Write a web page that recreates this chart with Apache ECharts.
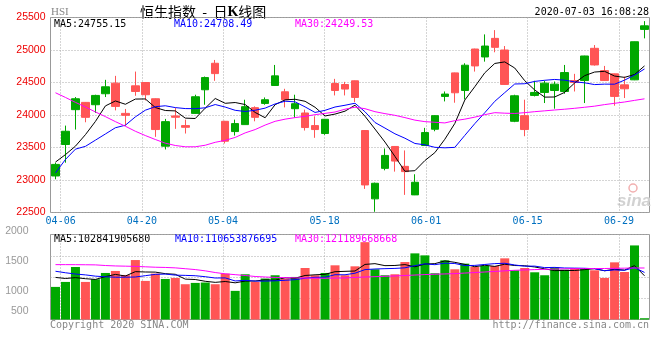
<!DOCTYPE html>
<html><head><meta charset="utf-8">
<script src="https://cdn.jsdelivr.net/npm/echarts@6/dist/echarts.min.js"></script>
<style>html,body{margin:0;padding:0;background:#fff}#c{width:660px;height:360px}</style>
</head><body><div id="c"></div>
<script>
const dates = ['04-03','04-06','04-07','04-08','04-09','04-14','04-15','04-16','04-17','04-20',
'04-21','04-22','04-23','04-24','04-27','04-28','04-29','05-04','05-05','05-06',
'05-07','05-08','05-11','05-12','05-13','05-14','05-15','05-18','05-19','05-20',
'05-21','05-22','05-25','05-26','05-27','05-28','05-29','06-01','06-02','06-03',
'06-04','06-05','06-08','06-09','06-10','06-11','06-12','06-15','06-16','06-17',
'06-18','06-19','06-22','06-23','06-24','06-26','06-29','06-30','07-02','07-03'];
const tickLabels = ['04-06','04-20','05-04','05-18','06-01','06-15','06-29'];

const open = [23062,23546,24082,24194,24158,24327,24490,24025,24449,24500,
24250,23520,23985,23837,24025,24388,24796,23903,23745,23852,
24113,24178,24454,24357,24097,24031,23837,23715,24484,24469,
24526,23761,22710,23179,23516,23210,22771,23531,23781,24286,
24648,24377,25015,24893,25179,25000,23903,23990,24301,24347,
24377,24362,24530,24530,25026,24683,24633,24464,24541,25317];
const close = [23240,23750,24250,23964,24301,24434,24132,23995,24362,24312,
23776,23898,23965,23811,24281,24576,24637,23597,23868,24128,
23964,24235,24602,24235,24174,23807,23776,23934,24377,24399,
24270,22924,22950,23378,23291,23129,22965,23730,23990,24322,
24342,24766,24755,25061,25041,24470,24296,23776,24347,24490,
24475,24653,24500,24908,24770,24530,24286,24403,25127,25372];
const low = [23011,23266,23776,23888,24032,24276,24071,23837,24296,24224,
23664,23470,23787,23715,24020,24158,24526,23562,23684,23850,
23903,24158,24450,24117,23960,23761,23649,23695,24301,24301,
24200,22863,22511,23149,23129,22771,22768,23528,23750,24209,
24189,24240,24668,24821,24965,24465,23890,23674,24286,24184,
24097,24327,24362,24184,24760,24525,24143,24261,24536,25179];
const high = [23266,23837,24276,24200,24312,24541,24602,24093,24668,24505,
24255,23940,24108,23929,24312,24592,24847,23910,23929,24235,
24133,24270,24770,24403,24312,24082,23980,23940,24556,24510,
24530,23765,22960,23485,23520,23455,23088,23802,23995,24362,
24652,24796,25020,25240,25306,25061,24312,24235,24526,24526,
24515,24770,24633,24912,25076,24755,24638,24592,25130,25444];

const ma5 = [23276,23391,23521,23698,23901,24140,24216,24165,24245,24247,
24115,24069,24063,23952,23946,24106,24254,24180,24192,24161,
24039,23958,24159,24233,24242,24211,24119,23985,24014,24059,
24151,23981,23784,23584,23363,23134,23143,23299,23421,23627,
23870,24230,24435,24649,24793,24817,24723,24528,24385,24275,
24277,24348,24493,24605,24661,24672,24599,24579,24623,24755];
const ma10 = [23110,23316,23475,23518,23613,23708,23804,23843,23971,24074,
24128,24142,24114,24099,24097,24111,24161,24122,24072,24054,
24073,24106,24170,24212,24202,24125,24039,24072,24123,24150,
24181,24050,23885,23799,23711,23643,23562,23541,23503,23495,
23502,23686,23867,24035,24210,24344,24477,24481,24517,24534,
24547,24536,24510,24495,24468,24475,24474,24536,24614,24708];
const ma30 = [24342,24270,24194,24123,24047,23975,23898,23827,23750,23684,
23623,23567,23531,23511,23511,23535,23580,23610,23655,23725,
23776,23845,23903,23936,23960,23980,24005,24025,24046,24089,
24120,24097,24051,24021,23995,23960,23921,23898,23888,23878,
23913,23936,23967,24005,24036,24028,24024,24036,24051,24064,
24077,24089,24103,24119,24136,24160,24180,24200,24225,24249];

const volume = [767,884,1235,884,947,1095,1142,1048,1399,908,
1080,954,978,830,861,870,830,1080,674,1064,
884,964,1041,964,1001,1212,1041,1095,1275,1041,
1251,1820,1181,1041,1064,1352,1556,1509,1088,1392,
1181,1314,1235,1259,1259,1439,1158,1212,1111,1041,
1228,1174,1212,1212,1158,978,1345,1118,1743,30];
const volMa5 = [990,965,985,960,943,1009,1061,1023,1126,1118,
1115,1078,1064,950,941,899,874,894,863,904,
906,933,925,983,971,1036,1052,1063,1125,1133,
1141,1296,1314,1267,1271,1292,1239,1304,1314,1379,
1345,1297,1242,1276,1250,1301,1270,1265,1236,1192,
1150,1153,1153,1173,1197,1147,1181,1162,1268,1028];
const volMa10 = [1135,1100,1070,1050,1020,1005,995,995,1000,1031,
1062,1069,1044,1038,1030,1007,976,979,907,922,
903,904,910,923,937,971,993,994,1054,1052,
1089,1174,1188,1196,1202,1216,1268,1309,1290,1325,
1318,1268,1273,1295,1315,1323,1283,1254,1256,1221,
1226,1212,1209,1205,1195,1148,1167,1158,1221,1107];
const volMa30 = [1291,1291,1290,1288,1285,1270,1260,1255,1250,1240,
1230,1225,1215,1195,1175,1145,1105,1075,1055,1035,
1012,1000,990,985,980,975,972,970,975,978,
990,1000,1008,1016,1025,1035,1046,1057,1065,1072,
1080,1093,1105,1118,1131,1145,1158,1166,1174,1181,
1186,1192,1197,1198,1199,1200,1204,1208,1212,1212];
const priceTicks = [22500, 25500, 500];
const volTicks = [0, 2000, 500];

const UP = '#00a800', DOWN = '#ff5555';
const MONO = '"DejaVu Sans Mono", monospace';
const GRID_LINE = {show: true, lineStyle: {color: '#aaa', type: [1, 2], width: 1}};
const showTick = (i, v) => tickLabels.indexOf(v) >= 0;

const candles = dates.map((d, i) => [open[i], close[i], low[i], high[i]]);
const lineS = (name, data, color, xi, yi) => ({
  name, type: 'line', data, xAxisIndex: xi, yAxisIndex: yi, symbol: 'none',
  lineStyle: {color, width: 1}, itemStyle: {color}, silent: true, z: 5
});
const t = (x, y, text, fill, font, align) => ({
  type: 'text', x, y, silent: true,
  style: {text, fill, font, align: align || 'left', verticalAlign: 'middle'}
});

const chart = echarts.init(document.getElementById('c'));
chart.setOption({
  animation: false,
  backgroundColor: '#fff',
  grid: [
    {left: 50.5, top: 17.5, width: 599, height: 195, show: true, borderColor: '#999', borderWidth: 1, outerBoundsMode: 'none', containLabel: false},
    {left: 50.5, top: 234.5, width: 599, height: 85, show: true, borderColor: '#999', borderWidth: 1, outerBoundsMode: 'none', containLabel: false}
  ],
  xAxis: [
    {type: 'category', gridIndex: 0, data: dates, boundaryGap: true, position: 'bottom',
     axisLine: {show: false}, axisTick: {show: false}, axisLabel: {show: false}, splitLine: {show: false}},
    {type: 'category', gridIndex: 0, data: dates, boundaryGap: false, position: 'bottom',
     axisLine: {show: false}, axisTick: {show: false},
     axisLabel: {show: true, interval: showTick, color: '#0070c0', fontFamily: MONO, fontSize: 10, margin: 4},
     splitLine: Object.assign({interval: showTick}, GRID_LINE)},
    {type: 'category', gridIndex: 1, data: dates, boundaryGap: true, position: 'bottom',
     axisLine: {show: false}, axisTick: {show: false}, axisLabel: {show: false}, splitLine: {show: false}},
    {type: 'category', gridIndex: 1, data: dates, boundaryGap: false, position: 'bottom',
     axisLine: {show: false}, axisTick: {show: false}, axisLabel: {show: false},
     splitLine: Object.assign({interval: showTick}, GRID_LINE)}
  ],
  yAxis: [
    {type: 'value', gridIndex: 0, min: priceTicks[0], max: priceTicks[1], interval: priceTicks[2],
     axisLine: {show: false}, axisTick: {show: false}, splitLine: GRID_LINE,
     axisLabel: {color: '#ee0000', fontFamily: 'Liberation Sans', fontSize: 10.5, margin: 5,
       formatter: v => String(v)}},
    {type: 'value', gridIndex: 1, min: volTicks[0], max: volTicks[1], interval: volTicks[2],
     axisLine: {show: false}, axisTick: {show: false}, splitLine: GRID_LINE,
     axisLabel: {color: '#999', fontFamily: 'Liberation Sans', fontSize: 10.5, margin: 22,
       formatter: v => v === 0 ? '' : '{v' + v + '|' + v + '}',
       rich: {
         v2000: {color: '#999', fontFamily: 'Liberation Sans', fontSize: 10.5, padding: [0, 0, 6, 0]},
         v1500: {color: '#999', fontFamily: 'Liberation Sans', fontSize: 10.5, padding: [11, 0, 0, 0]},
         v1000: {color: '#999', fontFamily: 'Liberation Sans', fontSize: 10.5, padding: [29, 0, 0, 0]},
         v500: {color: '#999', fontFamily: 'Liberation Sans', fontSize: 10.5, padding: [26, 0, 0, 0]}
       }}}
  ],
  series: [
    {type: 'candlestick', data: candles, xAxisIndex: 0, yAxisIndex: 0, barWidth: 8,
     itemStyle: {color: UP, color0: DOWN, borderColor: UP, borderColor0: DOWN, borderWidth: 1}, silent: true},
    lineS('MA5', ma5, '#000000', 0, 0),
    lineS('MA10', ma10, '#0000ff', 0, 0),
    lineS('MA30', ma30, '#ff00ff', 0, 0),
    {type: 'bar', data: volume, xAxisIndex: 2, yAxisIndex: 1, barWidth: 9, silent: true,
     itemStyle: {color: p => close[p.dataIndex] >= open[p.dataIndex] ? UP : DOWN}},
    lineS('VMA5', volMa5, '#000000', 2, 1),
    lineS('VMA10', volMa10, '#0000ff', 2, 1),
    lineS('VMA30', volMa30, '#ff00ff', 2, 1)
  ],
  graphic: [
    t(51, 12, 'HSI', '#888', '11px "Liberation Serif"'),
    {type: 'text', x: 140, y: 12, silent: true, style: {
      text: '{a|恒生指数  -  日}{b|K}{a|线图}', verticalAlign: 'middle',
      rich: {a: {fontSize: 14, fontFamily: 'Noto Sans CJK SC', fill: '#000'},
             b: {fontSize: 14, fontWeight: 'bold', fontFamily: 'Liberation Serif', fill: '#000'}}}},
    t(649, 12, '2020-07-03 16:08:28', '#000', '10px ' + MONO, 'right'),
    t(54, 24, 'MA5:24755.15', '#000', '10px ' + MONO),
    t(174, 24, 'MA10:24708.49', '#0000ff', '10px ' + MONO),
    t(295, 24, 'MA30:24249.53', '#ff00ff', '10px ' + MONO),
    t(54, 239, 'MA5:102841905680', '#000', '10px ' + MONO),
    t(175, 239, 'MA10:110653876695', '#0000ff', '10px ' + MONO),
    t(295, 239, 'MA30:121189668668', '#ff00ff', '10px ' + MONO),
    t(50, 325, 'Copyright 2020 SINA.COM', '#888', '10px ' + MONO),
    t(649, 325, 'http://finance.sina.com.cn', '#888', '10px ' + MONO, 'right'),
    t(634, 201, 'sina', '#d2d2d2', 'italic bold 17px "Liberation Sans"', 'center'),
    {type: 'circle', shape: {cx: 633, cy: 188, r: 4}, silent: true, style: {fill: 'none', stroke: '#f2b0b0', lineWidth: 1.5}}
  ]
});
</script></body></html>
